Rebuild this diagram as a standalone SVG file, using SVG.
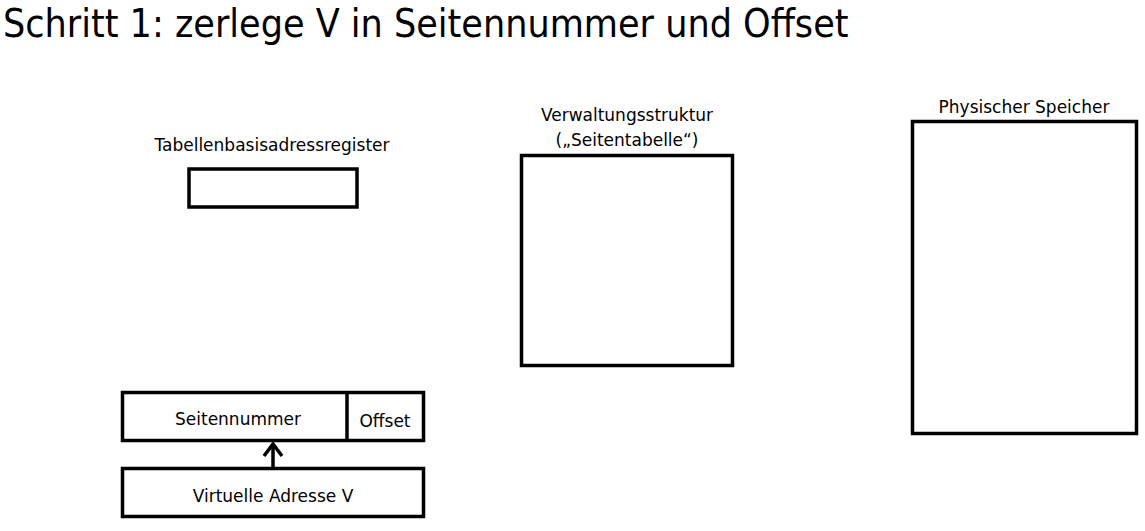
<svg xmlns="http://www.w3.org/2000/svg" width="1145" height="531" viewBox="0 0 1145 531">
<style>
text{font-family:"DejaVu Sans",sans-serif;fill:#000}
.title{font-family:"DejaVu Sans Condensed","DejaVu Sans",sans-serif;font-stretch:condensed;font-size:39px}
.lbl{font-size:17px;text-anchor:middle}
.box{fill:#fff;stroke:#000;stroke-width:3.5}
.conn{fill:none;stroke:#000;stroke-width:3.5}
</style>
<rect width="1145" height="531" fill="#fff"/>
<text id="title" class="title" x="3" y="37">Schritt 1: zerlege V in Seitennummer und Offset</text>
<g id="tbr">
<text class="lbl" x="272" y="151">Tabellenbasisadressregister</text>
<rect class="box" x="189" y="169" width="168" height="38"/>
</g>
<g id="seitentabelle">
<text class="lbl" x="627" y="121">Verwaltungsstruktur</text>
<text class="lbl" x="627" y="146">(„Seitentabelle“)</text>
<rect class="box" x="521.5" y="155.5" width="211" height="210"/>
</g>
<g id="speicher">
<text class="lbl" x="1024" y="113">Physischer Speicher</text>
<rect class="box" x="912.5" y="121.5" width="224" height="312"/>
</g>
<g id="zerlegung">
<rect class="box" x="122.5" y="392.5" width="301" height="48"/>
<line class="conn" x1="347" y1="392.5" x2="347" y2="440.5"/>
<text class="lbl" x="238" y="425">Seitennummer</text>
<text class="lbl" x="385" y="427">Offset</text>
</g>
<g id="vadresse">
<rect class="box" x="122.5" y="468.5" width="301" height="48"/>
<text class="lbl" x="273" y="502">Virtuelle Adresse V</text>
</g>
<g id="connectors">
<line class="conn" x1="273" y1="468" x2="273" y2="444"/>
<polyline class="conn" points="264,456 273,444 282,456"/>
</g>
</svg>
